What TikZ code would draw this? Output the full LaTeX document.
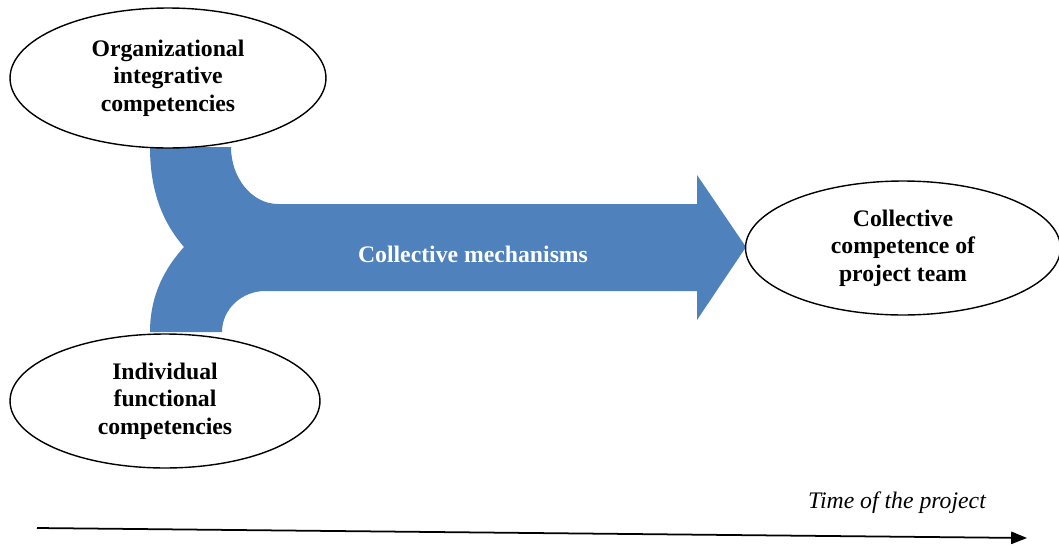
\documentclass[tikz,border=0pt]{standalone}
\usepackage{fontspec}
\setmainfont{Liberation Serif}
\usetikzlibrary{shapes.geometric,arrows.meta}
\definecolor{flowblue}{HTML}{4F81BD}
\begin{document}
\begin{tikzpicture}[x=0.02cm,y=-0.02cm,
    comp/.style={ellipse,draw=black,line width=0.8pt,fill=white,inner sep=0pt,
      align=center,font=\fontsize{13.5}{15.6}\selectfont\bfseries}]
    \useasboundingbox (0,0) rectangle (1059,545);
    %freccia dei meccanismi collettivi
    \fill[flowblue] (150,147) -- (231,147) .. controls (231,178) and (252,204) .. (278,204)
      -- (697,204) -- (697,175) -- (746,247) -- (697,320) -- (697,291) -- (265,291)
      .. controls (242,291) and (222,309) .. (222,332) -- (150,332)
      .. controls (150,295) and (165,268) .. (184,247)
      .. controls (165,225) and (150,195) .. cycle;
    \node[font=\fontsize{13.5}{15.6}\selectfont\bfseries,text=white] (mech) at (473,254) {Collective mechanisms};
    %competenze
    \node[comp,minimum width=6.32cm,minimum height=2.8cm] (orgcomp) at (168,78) {Organizational\\integrative\\competencies};
    \node[comp,minimum width=6.2cm,minimum height=2.68cm] (indcomp) at (165,401) {Individual\\functional\\competencies};
    \node[comp,minimum width=6.3cm,minimum height=2.68cm] (teamcomp) at (903,248) {Collective\\competence of\\project team};
    %asse del tempo
    \coordinate (tstart) at (37,528);
    \coordinate (tend) at (1027,538);
    \draw[line width=1pt,-{Triangle[length=9pt,width=7pt]}] (tstart) -- (tend);
    \node[font=\fontsize{13.5}{15.6}\selectfont\itshape] (time) at (897,503) {Time of the project};
  \end{tikzpicture}
\end{document}
